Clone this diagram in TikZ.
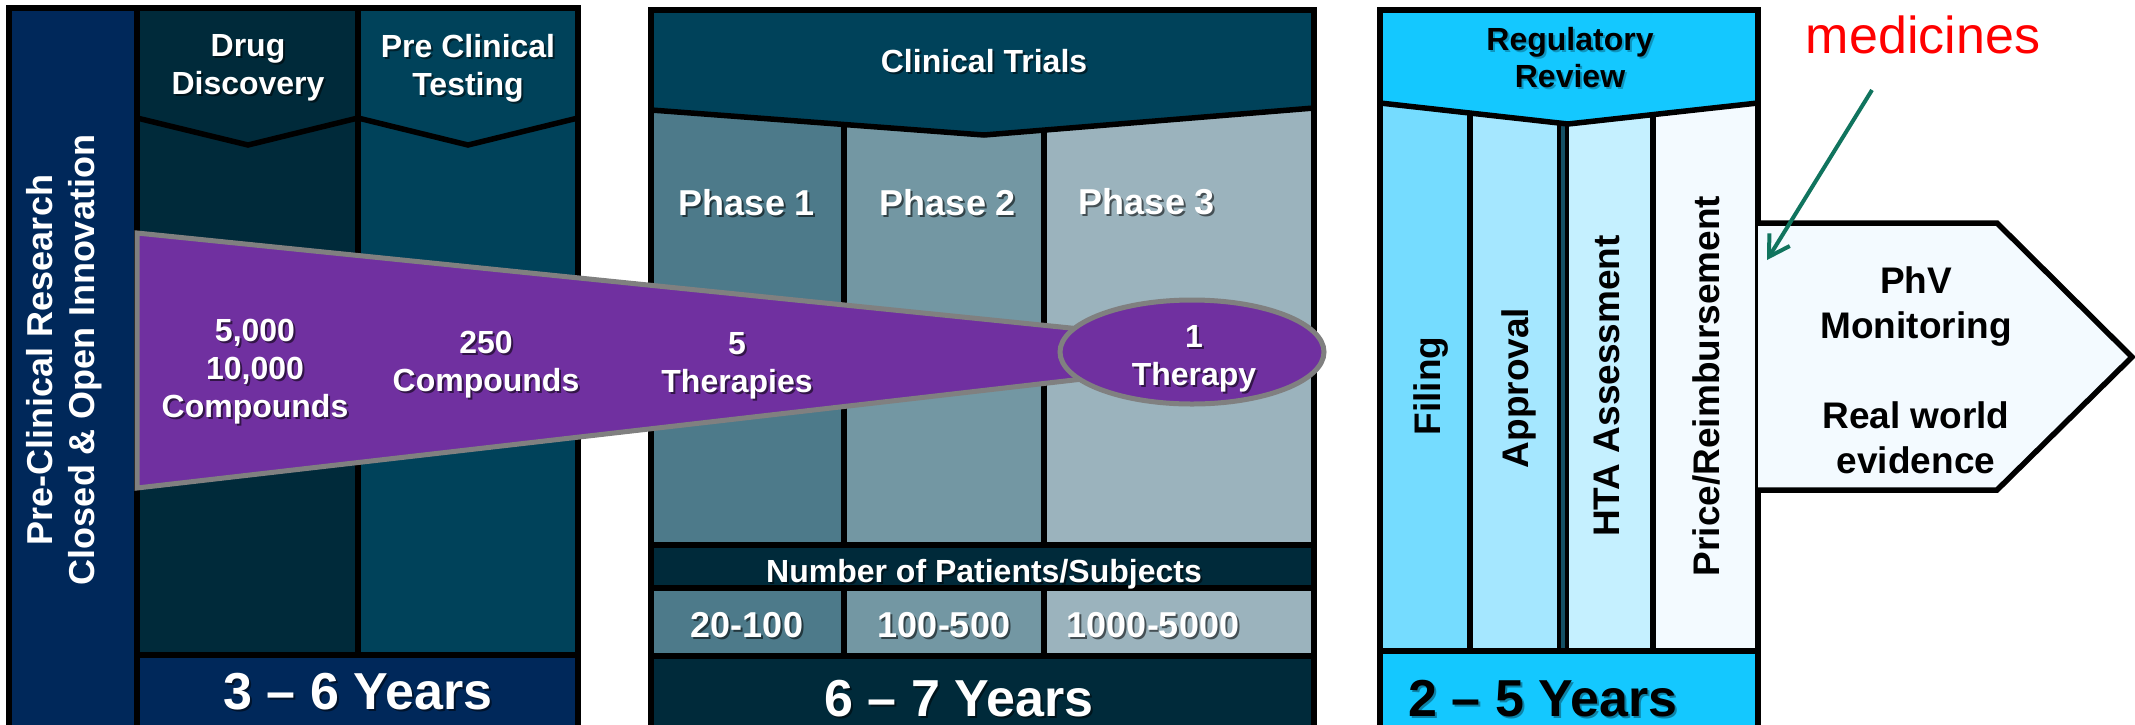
\documentclass[tikz,border=0pt]{standalone}
\usepackage{fontspec}
\setmainfont{Liberation Sans}
\usetikzlibrary{arrows.meta,shapes.geometric}
\definecolor{navy}{RGB}{0,40,90}
\definecolor{tealdk}{RGB}{0,42,58}
\definecolor{tealmd}{RGB}{0,66,90}
\definecolor{phA}{RGB}{77,122,138}
\definecolor{phB}{RGB}{115,151,163}
\definecolor{phC}{RGB}{155,179,189}
\definecolor{purp}{RGB}{112,48,160}
\definecolor{edgegray}{RGB}{128,128,128}
\definecolor{cyanhd}{RGB}{20,200,255}
\definecolor{colfil}{RGB}{117,220,255}
\definecolor{colappr}{RGB}{165,231,255}
\definecolor{colhta}{RGB}{197,240,255}
\definecolor{colprice}{RGB}{243,250,255}
\definecolor{dblteal}{RGB}{20,80,100}
\definecolor{arrowgreen}{RGB}{16,116,94}
% text with a small drop shadow: name, style, position, text, shadow opacity
\newcommand{\shtext}[5]{%
  \node[#2,text=black,opacity=#5,xshift=1pt,yshift=-1pt] (#1sh) at (#3) {#4};
  \node[#2] (#1) at (#3) {#4};}
\begin{document}
\begin{tikzpicture}[x=0.5pt,y=-0.5pt,line join=miter,
  blk/.style={draw=black,line width=2.75pt},
  wtxt/.style={text=white,inner sep=0pt,align=center,font=\bfseries\fontsize{16pt}{19pt}\selectfont},
  btxt/.style={text=black,inner sep=0pt,align=center,font=\bfseries\fontsize{16pt}{18.5pt}\selectfont},
  phasetxt/.style={text=white,inner sep=0pt,font=\bfseries\fontsize{18pt}{22pt}\selectfont},
  yeartxt/.style={inner sep=0pt,font=\bfseries\fontsize{26pt}{30pt}\selectfont},
  rottxt/.style={text=black,inner sep=0pt,rotate=90,font=\bfseries\fontsize{18.5pt}{22pt}\selectfont},
  funnel/.style={fill=purp,draw=edgegray,line width=2.5pt}]
\useasboundingbox (0,0) rectangle (2135,724);
\clip (0,0) rectangle (2135,724);

% ---------- Section 1 ----------
\fill[navy] (9,8) rectangle (137,740);
\fill[tealdk] (137,8) rectangle (358,655);
\fill[tealmd] (358,8) rectangle (578,655);
\fill[navy] (137,655) rectangle (578,740);
\draw[blk] (9,8) rectangle (578,740);
\draw[blk] (137,8) -- (137,740);
\draw[blk] (358,8) -- (358,655);
\draw[blk] (137,655) -- (578,655);
\draw[blk] (137,118) -- (248,145) -- (358,118) -- (468,145) -- (578,118);

% ---------- Section 2 ----------
\fill[phA] (651,10) rectangle (844,545);
\fill[phB] (844,10) rectangle (1044,545);
\fill[phC] (1044,10) rectangle (1314,545);
\fill[tealmd] (651,10) -- (1314,10) -- (1314,108) -- (984,135) -- (651,110) -- cycle;
\fill[tealdk] (651,545) rectangle (1314,588);
\fill[phA] (651,588) rectangle (844,656);
\fill[phB] (844,588) rectangle (1044,656);
\fill[phC] (1044,588) rectangle (1314,656);
\fill[tealdk] (651,656) rectangle (1314,740);
\draw[blk] (651,10) rectangle (1314,740);
\draw[blk] (651,110) -- (984,135) -- (1314,108);
\draw[blk] (844,124) -- (844,545);
\draw[blk] (1044,130) -- (1044,545);
\draw[blk] (651,545) -- (1314,545);
\draw[blk] (651,588) -- (1314,588);
\draw[blk] (651,656) -- (1314,656);
\draw[blk] (844,588) -- (844,656);
\draw[blk] (1044,588) -- (1044,656);

% ---------- Section 3 ----------
\fill[colfil] (1380,10) rectangle (1470,651);
\fill[colappr] (1470,10) rectangle (1562,651);
\fill[colhta] (1562,10) rectangle (1653,651);
\fill[colprice] (1653,10) rectangle (1758,651);
\fill[cyanhd] (1380,10) -- (1758,10) -- (1758,103) -- (1568,124) -- (1380,103) -- cycle;
\fill[cyanhd] (1380,651) rectangle (1758,740);
\fill[black] (1557,123) rectangle (1569,651);
\fill[dblteal] (1561,124) rectangle (1565,651);
\draw[blk] (1380,10) rectangle (1758,740);
\draw[blk] (1380,103) -- (1568,124) -- (1758,103);
\draw[blk] (1470,113) -- (1470,651);
\draw[blk] (1653,115) -- (1653,651);
\draw[blk] (1380,651) -- (1758,651);

% ---------- PhV pentagon ----------
\draw[blk,fill=colprice] (1758,223) -- (1997,223) -- (2132,357) -- (1997,490) -- (1758,490);

% ---------- Funnel ----------
\draw[funnel] (137,233) -- (1100,331) -- (1100,377) -- (137,488) -- cycle;
\node[ellipse,funnel,minimum width=132pt,minimum height=52pt,inner sep=0pt] (oval) at (1192,352) {};

% ---------- Texts ----------
\node[wtxt,rotate=90,font=\bfseries\fontsize{18pt}{21pt}\selectfont] (leftT) at (64,360) {Pre-Clinical Research\\Closed \& Open Innovation};
\shtext{ddT}{wtxt}{248,68}{Drug\\Discovery}{0.5}
\shtext{pcT}{wtxt}{468,68}{Pre Clinical\\Testing}{0.5}
\shtext{yA}{yeartxt,text=white}{358,692}{3 – 6 Years}{0.5}

\shtext{ctT}{wtxt}{984,61}{Clinical Trials}{0.5}
\shtext{pA}{phasetxt}{747,203}{Phase 1}{0.55}
\shtext{pB}{phasetxt}{948,203}{Phase 2}{0.55}
\shtext{pC}{phasetxt}{1147,202}{Phase 3}{0.55}
\shtext{nbT}{wtxt}{984,574}{Number of Patients/Subjects}{0.5}
\shtext{nA}{phasetxt}{747,625}{20-100}{0.55}
\shtext{nB}{phasetxt}{944,625}{100-500}{0.55}
\shtext{nC}{phasetxt}{1153,625}{1000-5000}{0.55}
\shtext{yB}{yeartxt,text=white}{959,699}{6 – 7 Years}{0.5}

\shtext{fA}{wtxt}{255,372}{5,000\\10,000\\Compounds}{0.55}
\shtext{fB}{wtxt}{486,365}{250\\Compounds}{0.55}
\shtext{fC}{wtxt}{737,366}{5\\Therapies}{0.55}
\shtext{fD}{wtxt}{1194,359}{1\\Therapy}{0.55}

\shtext{rhT}{btxt}{1570,58}{Regulatory\\Review}{0.25}
\node[rottxt] (filT) at (1431,386) {Filing};
\node[rottxt] (apT) at (1519,388) {Approval};
\node[rottxt] (htaT) at (1607,386) {HTA Assessment};
\node[rottxt] (prT) at (1706,386) {Price/Reimbursement};
\shtext{yC}{yeartxt,text=black}{1543,699}{2 – 5 Years}{0.35}

\node[btxt,font=\bfseries\fontsize{18.5pt}{22.5pt}\selectfont] (phvT) at (1916,370) {PhV\\Monitoring\\[22.5pt]Real world\\evidence};

\node[text=red,inner sep=0pt,font=\fontsize{26pt}{30pt}\selectfont] (medT) at (1923,35) {medicines};
\coordinate (arrS) at (1872,90);
\coordinate (arrE) at (1767,260);
\draw[arrowgreen,line width=2pt,-{Straight Barb[length=10pt,width=12pt]}] (arrS) -- (arrE);
\end{tikzpicture}
\end{document}
